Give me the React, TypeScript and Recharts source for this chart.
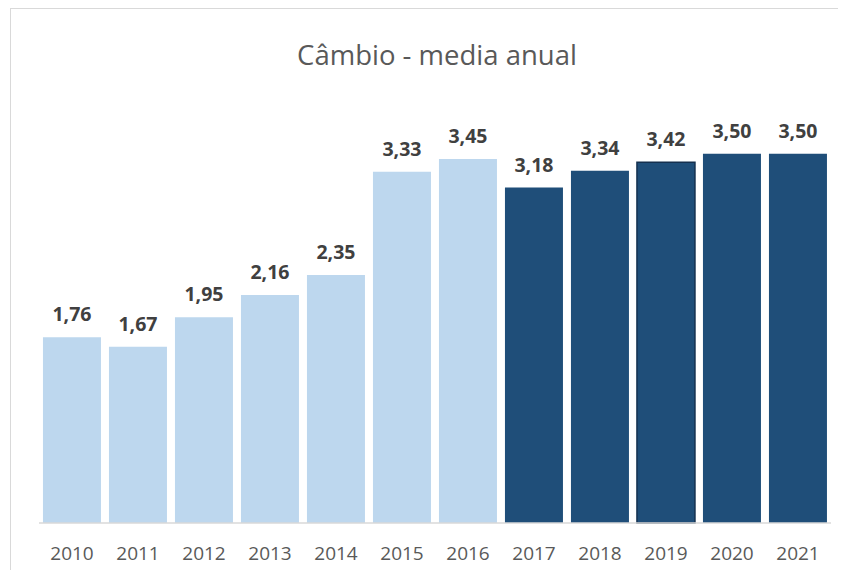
import React from 'react';
import { BarChart, Bar, XAxis, YAxis, Cell, LabelList } from 'recharts';

const years = ['2010', '2011', '2012', '2013', '2014', '2015', '2016', '2017', '2018', '2019', '2020', '2021'];
const rates = [1.76, 1.67, 1.95, 2.16, 2.35, 3.33, 3.45, 3.18, 3.34, 3.42, 3.5, 3.5];
// 2010-2016 realizado, 2017 em diante projeção
const projected = [false, false, false, false, false, false, false, true, true, true, true, true];
// 2019 aparece com contorno mais escuro no original
const outlined = ['2019'];

const data = years.map((year, i) => ({ year, rate: rates[i], projected: projected[i] }));

const LIGHT = '#BDD7EE';
const DARK = '#1F4E79';
const FONT = '"Open Sans", sans-serif';

const fmt = (v: any) => Number(v).toFixed(2).replace('.', ',');

const App = () => (
  <div style={{ width: 838, height: 562, overflow: 'hidden' }}>
    <style>{'html, body { overflow: hidden; }'}</style>
    <div
      style={{
        position: 'relative',
        marginLeft: 2,
        width: 900,
        height: 620,
        border: '1px solid #d9d9d9',
        boxSizing: 'border-box',
        fontFamily: FONT,
      }}
    >
      <div
        style={{
          position: 'absolute',
          left: 0,
          width: 852,
          top: 29,
          textAlign: 'center',
          fontSize: 27.5,
          color: '#595959',
          lineHeight: '34px',
        }}
      >
        Câmbio - media anual
      </div>
      <BarChart
        width={827}
        height={561}
        data={data}
        margin={{ top: 92, right: 7, left: 28, bottom: 0 }}
        barCategoryGap="6%"
      >
        <YAxis hide type="number" domain={[0, 4]} />
        <XAxis
          dataKey="year"
          height={47}
          tickLine={false}
          tickSize={0}
          tickMargin={24}
          axisLine={{ stroke: '#d9d9d9', strokeWidth: 1.5 }}
          tick={{ fill: '#595959', fontSize: 19, fontFamily: FONT }}
          interval={0}
        />
        <Bar dataKey="rate" isAnimationActive={false}>
          {data.map((d) => (
            <Cell
              key={d.year}
              fill={d.projected ? DARK : LIGHT}
              stroke={outlined.includes(d.year) ? '#14304f' : 'none'}
              strokeWidth={outlined.includes(d.year) ? 1.5 : 0}
            />
          ))}
          <LabelList
            dataKey="rate"
            position="top"
            offset={16}
            formatter={fmt}
            style={{ fill: '#404040', fontSize: 19.5, fontWeight: 700, fontFamily: FONT }}
          />
        </Bar>
      </BarChart>
    </div>
  </div>
);

export default App;
